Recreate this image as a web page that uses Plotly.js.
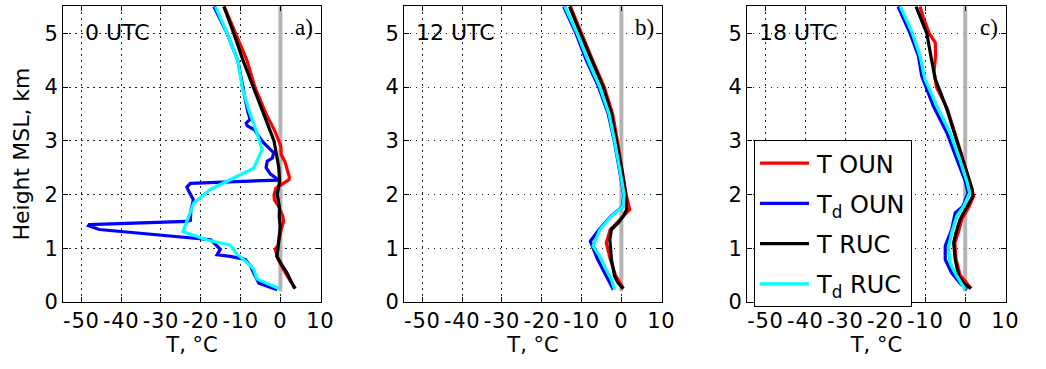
<!DOCTYPE html>
<html>
<head>
<meta charset="utf-8">
<script src="https://cdn.plot.ly/plotly-3.0.1.min.js"></script>
<style>
html,body{margin:0;padding:0;background:#fff;}
#chart .xtick text, #chart .x2tick text, #chart .x3tick text { letter-spacing: 0.7px; }
</style>
</head>
<body>
<div id="chart" style="width:1046px;height:369px;"></div>
<script>
// ---------- Data (temperature °C vs height km MSL) ----------
// Panel a) 0 UTC
const a_TOUN_h = [0.25,0.4,0.6,0.8,0.9,0.99,1.05,1.2,1.35,1.5,1.6,1.7,1.8,1.9,2.0,2.12,2.2,2.28,2.34,2.45,2.6,2.75,2.9,3.0,3.2,3.5,4.0,4.5,5.0,5.5];
const a_TOUN_t = [3.8,2.4,0.8,-0.6,-1.0,-1.3,-0.6,-0.3,0.2,0.8,0.6,0.0,-0.6,-1.5,-1.6,-1.1,0.4,2.2,2.2,1.8,1.2,0.2,0.1,-0.4,-1.5,-3.6,-6.4,-8.4,-11.3,-14.1];
const a_TdOUN_h = [0.23,0.29,0.35,0.48,0.67,0.79,0.85,0.88,0.98,1.04,1.16,1.35,1.42,1.44,1.50,1.52,1.7,1.85,1.91,2.06,2.14,2.21,2.27,2.38,2.5,2.62,2.68,2.78,2.88,2.97,3.1,3.2,3.28,3.33,3.4,3.55,3.76,4.0,4.5,5.0,5.5];
const a_TdOUN_t = [-0.8,-3.4,-5.4,-6.3,-7.5,-8.8,-12.6,-15.9,-15.1,-15.9,-17.5,-45.5,-48.2,-48.0,-23.5,-22.6,-22.5,-22.0,-21.9,-23.0,-23.5,-22.6,-0.4,-2.5,-3.6,-3.3,-2.0,-1.7,-3.0,-4.3,-5.6,-6.4,-8.3,-8.6,-7.6,-8.2,-8.8,-9.4,-10.7,-13.4,-16.7];
const a_TRUC_h = [0.25,0.4,0.55,0.7,0.85,1.0,1.15,1.4,1.6,1.75,2.0,2.25,2.5,2.75,3.0,3.25,3.5,3.75,4.0,4.5,5.0,5.5];
const a_TRUC_t = [3.6,2.6,1.6,0.3,-0.9,-0.6,-0.4,-0.05,-0.3,-0.2,-0.8,-0.2,-0.4,-0.9,-1.6,-2.9,-4.2,-5.6,-7.0,-9.4,-11.7,-14.2];
const a_TdRUC_h = [0.25,0.43,0.61,0.75,0.89,1.06,1.155,1.31,1.5,1.84,2.1,2.28,2.49,2.77,2.84,3.15,3.59,4.0,4.5,5.0,5.5];
const a_TdRUC_t = [-0.4,-5.9,-6.7,-8.6,-10.9,-12.6,-18.4,-24.5,-23.5,-21.8,-17.5,-12.6,-6.7,-5.0,-4.6,-5.9,-8.0,-9.6,-10.7,-13.4,-16.3];

// Panel b) 12 UTC
const b_TOUN_h = [0.25,0.5,0.8,1.1,1.35,1.5,1.72,2.0,2.5,3.0,3.5,4.0,4.5,5.0,5.5];
const b_TOUN_t = [0.5,-1.5,-2.8,-3.8,-2.8,-0.8,2.1,1.2,0.2,-1.0,-2.2,-4.3,-7.2,-10.0,-12.8];
const b_TdOUN_h = [0.23,0.5,0.8,1.13,1.35,1.6,1.78,2.0,2.5,3.0,3.5,4.0,4.5,5.0,5.5];
const b_TdOUN_t = [-2.0,-4.0,-6.0,-7.8,-5.6,-2.6,0.3,0.6,-0.5,-1.8,-3.3,-5.7,-8.8,-11.4,-14.5];
const b_TRUC_h = [0.25,0.35,0.48,0.79,1.16,1.35,1.47,1.6,1.72,2.0,2.5,3.0,3.5,4.0,4.5,5.0,5.5];
const b_TRUC_t = [0.4,-0.8,-1.7,-2.5,-2.9,-2.5,-0.8,0.5,1.3,1.1,0.0,-1.3,-2.5,-4.6,-7.5,-10.3,-13.0];
const b_TdRUC_h = [0.23,0.42,0.6,0.85,1.04,1.35,1.6,1.78,2.0,2.5,3.0,3.5,4.0,4.5,5.0,5.5];
const b_TdRUC_t = [-1.7,-2.5,-3.8,-5.4,-7.1,-5.4,-2.5,0.4,0.7,-0.4,-1.7,-3.1,-5.4,-8.4,-11.1,-14.2];

// Panel c) 18 UTC
const c_TOUN_h = [0.25,0.5,0.8,1.1,1.3,1.55,1.78,1.97,2.1,2.66,3.0,3.6,4.0,4.3,4.6,4.83,5.0,5.3,5.5];
const c_TOUN_t = [1.5,-1.3,-2.3,-2.6,-1.7,-0.8,1.0,2.1,1.7,-0.5,-2.0,-4.5,-7.2,-7.8,-7.4,-7.5,-9.0,-10.5,-11.3];
const c_TdOUN_h = [0.23,0.35,0.54,0.79,1.04,1.35,1.66,1.78,2.03,2.25,2.66,3.15,3.65,4.21,4.58,5.0,5.5];
const c_TdOUN_t = [0.4,-1.3,-3.4,-5.0,-5.0,-3.4,-2.5,-0.6,0.7,0.0,-2.1,-4.6,-8.0,-10.9,-11.7,-13.8,-16.8];
const c_TRUC_h = [0.25,0.35,0.48,0.79,1.1,1.29,1.54,1.78,1.97,2.1,2.66,3.0,3.59,4.0,4.15,4.5,5.0,5.5];
const c_TRUC_t = [1.4,-0.4,-1.6,-2.5,-2.9,-2.3,-1.3,0.4,1.9,1.7,-0.6,-2.1,-4.6,-6.7,-7.5,-8.4,-9.6,-12.3];
const c_TdRUC_h = [0.23,0.48,0.73,1.0,1.29,1.6,1.78,2.03,2.25,2.66,3.15,3.65,4.15,4.58,5.0,5.5];
const c_TdRUC_t = [0.0,-2.1,-3.8,-4.2,-3.4,-2.1,-0.4,1.1,0.4,-1.4,-3.8,-7.1,-10.1,-11.3,-13.2,-16.2];

// Freezing reference line
const freezeT = [0, 0];
const freezeH = [0.2, 5.5];

// Ticks and labels
const xTickVals = [-50,-40,-30,-20,-10,0,10];
const xTickText = ['-50','-40','-30','-20','-10','0','10'];
const yTickVals = [0,1,2,3,4,5];
const panelTimes = ['0 UTC','12 UTC','18 UTC'];
const panelLetters = ['a)','b)','c)'];
const seriesNames = ['T OUN','T<sub>d</sub> OUN','T RUC','T<sub>d</sub> RUC'];
const seriesColors = ['#ff0000','#0000ff','#000000','#00ffff'];

// ---------- Build ----------
const panels = [
  [[a_TOUN_t,a_TOUN_h],[a_TdOUN_t,a_TdOUN_h],[a_TRUC_t,a_TRUC_h],[a_TdRUC_t,a_TdRUC_h]],
  [[b_TOUN_t,b_TOUN_h],[b_TdOUN_t,b_TdOUN_h],[b_TRUC_t,b_TRUC_h],[b_TdRUC_t,b_TdRUC_h]],
  [[c_TOUN_t,c_TOUN_h],[c_TdOUN_t,c_TdOUN_h],[c_TRUC_t,c_TRUC_h],[c_TdRUC_t,c_TdRUC_h]]
];
const domains = [[0,0.2736],[0.3616,0.6352],[0.7253,1]];
const FONT = 'DejaVu Sans, Liberation Sans, Arial, sans-serif';

const traces = [];
const layout = {
  width: 1046, height: 369,
  margin: {l:63, r:40, t:6, b:67},
  paper_bgcolor: '#fff', plot_bgcolor: '#fff',
  font: {family: FONT, size: 21, color: '#000'},
  showlegend: true,
  legend: {
    x: 0.7328, y: 0.547, xanchor: 'left', yanchor: 'top',
    bgcolor: '#fff', bordercolor: '#000', borderwidth: 1,
    font: {family: FONT, size: 24, color: '#000'},
    tracegroupgap: 6, itemwidth: 52
  },
  annotations: [],
  shapes: []
};

panels.forEach((p, i) => {
  const sfx = i === 0 ? '' : String(i+1);
  const xa = 'x' + sfx, ya = 'y' + sfx;
  traces.push({
    x: freezeT, y: freezeH, xaxis: xa, yaxis: ya, mode: 'lines',
    line: {color: '#b4b4b4', width: 4}, showlegend: false, hoverinfo: 'skip'
  });
  p.forEach((s, j) => {
    traces.push({
      x: s[0], y: s[1], xaxis: xa, yaxis: ya, mode: 'lines',
      name: seriesNames[j], legendgroup: 'g' + j,
      showlegend: i === 2,
      line: {color: seriesColors[j], width: 3.2, shape: 'linear'}
    });
  });
  const axCommon = {
    showline: true, linecolor: '#000', linewidth: 1, mirror: 'allticks',
    ticks: 'inside', ticklen: 5, tickcolor: '#000', tickwidth: 1,
    showgrid: true, gridcolor: '#222', gridwidth: 1, griddash: '1.5px,4.5px',
    zeroline: false, tickfont: {family: FONT, size: 21, color: '#000'}
  };
  layout['xaxis' + sfx] = Object.assign({}, axCommon, {
    domain: domains[i], anchor: ya, range: [-54.6, 10.2],
    tickmode: 'array', tickvals: xTickVals, ticktext: xTickText,
    title: {text: 'T, °C', font: {family: FONT, size: 21}, standoff: 4}
  });
  layout['yaxis' + sfx] = Object.assign({}, axCommon, {
    domain: [0,1], anchor: xa, range: [0, 5.51],
    tickmode: 'array', tickvals: yTickVals
  });
  if (i === 0) {
    layout['yaxis'].title = {text: 'Height MSL, km', font: {family: FONT, size: 22}, standoff: 8};
  }
  layout.annotations.push({
    xref: xa, yref: ya, x: i === 0 ? -49.6 : -52.2, y: 5.02, xanchor: 'left', yanchor: 'middle',
    text: panelTimes[i], showarrow: false, font: {family: FONT, size: 22, color: '#000'}
  });
  layout.annotations.push({
    xref: xa, yref: ya, x: 8.8, y: 5.11, xanchor: 'right', yanchor: 'middle',
    text: panelLetters[i], showarrow: false,
    font: {family: 'Liberation Serif, Times New Roman, serif', size: 23, color: '#000'}
  });
});

Plotly.newPlot('chart', traces, layout, {displayModeBar: false, staticPlot: true}).then(gd => {
  // lengthen legend line samples to match the reference's longer swatches
  gd.querySelectorAll('.legend .legendlines path').forEach(p => p.setAttribute('d', 'M5,0h49'));
});
</script>
</body>
</html>
